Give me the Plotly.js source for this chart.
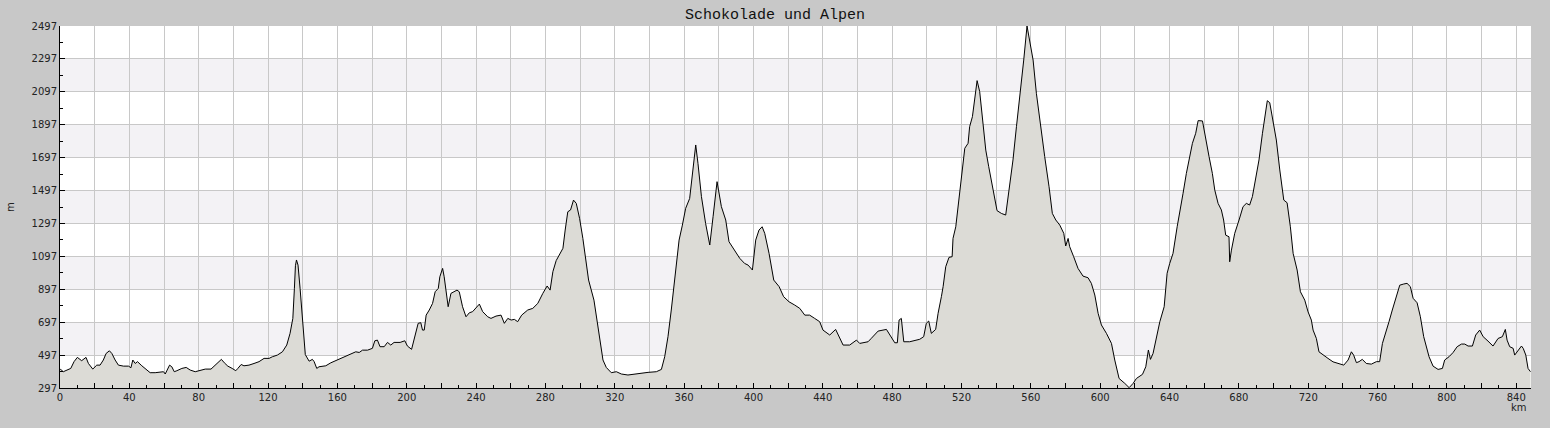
<!DOCTYPE html>
<html>
<head>
<meta charset="utf-8">
<script src="https://cdn.plot.ly/plotly-3.0.1.min.js"></script>
<style>
  html, body { margin: 0; padding: 0; background: #c8c8c8; }
  #chart { width: 1550px; height: 428px; }
</style>
</head>
<body>
<div id="chart"></div>
<script>
// distance along the route (km) and elevation (m)
const distKm = [
  0, 0.4, 1.9, 3.9, 6.2, 8.1, 10, 12.5, 15, 16.4, 18.9, 21.2, 23.1, 25, 26.6, 28.5, 29.9, 31.8, 33.7, 36.6,
  39.5, 40.9, 42, 43.4, 44.7, 47.2, 50.1, 52, 54.9, 57.8, 59.7, 60.7, 62, 63.2, 64.5, 65.9, 67.4, 70.3, 72.8, 75.1,
  78, 80.9, 83.8, 87.1, 89, 90.6, 93.1, 94.8, 96.8, 99.3, 101.4, 102.6, 104.5, 106.1, 109, 111.9, 114.8, 117.7, 120.6, 122.5,
  125.4, 128.3, 130.8, 132.7, 134.3, 135.2, 135.8, 136.4, 137.3, 138.5, 139.6, 140.5, 141.5, 143.7, 145.6, 146.6, 148.1, 149.4, 153.3, 156.2,
  160, 163.9, 167.7, 170.6, 172.6, 174.5, 177.4, 180.2, 181.6, 183.1, 184.6, 187, 188.9, 190.8, 192.7, 196.2, 198.9, 200.4, 202.8, 204.7,
  206.6, 208.1, 209.1, 210.1, 211.2, 213, 214.9, 216.4, 218.2, 219.1, 220.7, 221.6, 222.8, 223.9, 225.5, 227.4, 229, 230.3, 232.2, 234.2,
  236.1, 238, 239.9, 241.9, 243.8, 246.7, 248.6, 251.5, 254.4, 256.3, 258.3, 260.2, 262.1, 264, 266.3, 269.8, 272.7, 275.6, 278.5, 281,
  282.7, 284.3, 286.2, 290.1, 291.4, 292.9, 294.5, 296.2, 297.8, 299.7, 301.6, 303.2, 304.9, 308, 309.9, 311.8, 313.2, 315.1, 318, 320.9,
  323.8, 327.6, 331.5, 334.4, 339.2, 344, 346.9, 348.8, 350.7, 352.6, 354.6, 357.1, 359, 360.9, 363.2, 365.1, 366.7, 368, 370, 372.4,
  374.8, 376.7, 379, 381.5, 384, 385.9, 388.2, 390.1, 392.1, 394.9, 396.9, 399.4, 401.3, 403.2, 405, 406.5, 409, 411.7, 414.8, 417.4,
  420.5, 423.8, 426.7, 429.6, 432.4, 435.3, 438.2, 440.1, 444, 447.4, 449.7, 451.7, 455.5, 459.4, 461.3, 466.1, 468, 471.9, 476.7, 479.6,
  481.5, 483, 484, 485.3, 486.7, 490.1, 495.9, 498.2, 499.7, 501.1, 502.6, 505.1, 506.5, 508.4, 509.4, 510.9, 512.8, 514.6, 515.1, 516.7,
  518.6, 520.3, 521.9, 523.8, 524.7, 526.3, 527.6, 529, 530.5, 532.4, 534, 535.7, 537.8, 539.2, 540.5, 543, 545.5, 547.4, 549.7, 551.7,
  554, 555.9, 557.8, 559.4, 561.3, 563.2, 565.5, 568, 570.5, 572.4, 574.4, 576.7, 579, 580.1, 581.5, 582.4, 584.7, 587.2, 590.1, 593,
  594.9, 596.9, 598.8, 600.7, 603.6, 606.5, 608.4, 610.9, 614.2, 616.7, 619, 620.9, 624.4, 626.3, 627.8, 629, 630.5, 632.4, 634.4, 636.9,
  638.6, 640.1, 642, 644.4, 645.9, 647.8, 649.7, 651.3, 653.2, 655.1, 656.5, 659, 660.9, 662.8, 664.7, 666.1, 668, 669.9, 671.2, 672.4,
  674.3, 674.7, 675.7, 677.6, 680.1, 682.4, 684.3, 686.2, 687.8, 689.7, 691.6, 693.6, 695.5, 696.4, 697.8, 699.7, 701.6, 703.6, 705.9, 707.8,
  709.7, 711.3, 713.6, 715.5, 718, 719.9, 721.8, 722.8, 724.7, 726.2, 728.6, 731.4, 734.3, 738.2, 740.5, 743, 744.9, 746.2, 747.8, 749.3,
  751.2, 753.5, 756.4, 759.3, 761.2, 762.8, 764.7, 766.6, 768.5, 770.9, 772.8, 775.1, 777, 778.9, 780.5, 782.8, 784.7, 786.6, 788.2, 789.7,
  792, 794.9, 797.4, 798.7, 801.2, 803.5, 805.9, 808.4, 810.3, 812.2, 814.7, 816.6, 818.9, 820.9, 823.7, 826.6, 829.5, 832, 833.7, 834.7,
  836.2, 838.2, 839.1, 841, 843, 844, 845.5, 846.8, 848.2
];
const elevM = [
  408, 410, 396, 406, 416, 457, 483, 463, 483, 446, 412, 436, 436, 467, 507, 523, 507, 467, 436, 430,
  430, 420, 467, 446, 457, 432, 406, 390, 390, 396, 396, 382, 416, 436, 426, 396, 402, 416, 422, 406,
  396, 406, 412, 412, 430, 450, 471, 450, 430, 416, 402, 416, 440, 432, 436, 446, 457, 477, 477, 487,
  497, 517, 558, 629, 720, 900, 1040, 1075, 1044, 900, 730, 588, 500, 460, 471, 457, 416, 426, 432, 450,
  467, 487, 503, 517, 513, 527, 527, 538, 584, 588, 548, 548, 574, 558, 574, 574, 584, 552, 532, 605,
  690, 694, 649, 649, 740, 771, 811, 882, 902, 973, 1024, 973, 872, 791, 872, 882, 892, 882, 791, 730,
  754, 761, 781, 807, 761, 730, 720, 734, 740, 690, 720, 710, 714, 700, 740, 771, 781, 811, 872, 917,
  892, 1004, 1071, 1146, 1257, 1368, 1379, 1439, 1419, 1328, 1206, 1095, 953, 831, 690, 568, 467, 422, 390, 396,
  382, 376, 382, 382, 392, 396, 410, 487, 609, 771, 973, 1196, 1287, 1389, 1449, 1622, 1774, 1662, 1460, 1297,
  1166, 1338, 1551, 1399, 1318, 1186, 1146, 1115, 1085, 1054, 1044, 1014, 1196, 1257, 1277, 1237, 1115, 953, 913, 852,
  821, 801, 781, 740, 740, 720, 700, 649, 619, 653, 599, 558, 558, 588, 568, 578, 599, 643, 653, 599,
  572, 572, 710, 720, 578, 578, 593, 609, 690, 704, 629, 653, 751, 852, 913, 1034, 1091, 1095, 1206, 1277,
  1460, 1602, 1754, 1784, 1885, 1946, 2047, 2165, 2098, 1905, 1743, 1642, 1520, 1439, 1375, 1358, 1348, 1500, 1683, 1885,
  2088, 2290, 2497, 2392, 2290, 2088, 1885, 1703, 1520, 1358, 1318, 1287, 1237, 1160, 1206, 1156, 1095, 1024, 977, 967,
  933, 862, 751, 680, 629, 568, 467, 355, 325, 299, 325, 355, 380, 426, 528, 471, 507, 609, 700, 791,
  994, 1054, 1115, 1277, 1379, 1480, 1601, 1683, 1784, 1845, 1922, 1920, 1804, 1703, 1601, 1500, 1419, 1379, 1318, 1226,
  1216, 1064, 1135, 1237, 1318, 1399, 1419, 1409, 1460, 1561, 1683, 1845, 1986, 2043, 2031, 1925, 1804, 1622, 1439, 1423,
  1277, 1115, 1014, 882, 831, 760, 710, 649, 598, 517, 497, 477, 456, 446, 436, 467, 517, 497, 451, 457,
  471, 446, 442, 457, 457, 568, 629, 700, 771, 852, 922, 929, 933, 913, 842, 815, 730, 609, 538, 487,
  430, 410, 416, 467, 487, 512, 548, 564, 564, 552, 552, 619, 649, 609, 582, 552, 598, 609, 653, 588,
  548, 538, 497, 527, 552, 538, 497, 416, 396
];

// axis ticks
const xTickVals = [];
const xTickText = [];
for (let v = 0; v <= 840; v += 20) {
  xTickVals.push(v);
  xTickText.push(v % 40 === 0 ? String(v) : '');
}
const yTicks = [297, 497, 697, 897, 1097, 1297, 1497, 1697, 1897, 2097, 2297, 2497];

const tickFont = { family: 'DejaVu Sans', size: 10, color: '#222' };

// alternating light bands between every other pair of y gridlines
const bands = [];
for (let i = 1; i < yTicks.length - 1; i += 2) {
  bands.push({
    type: 'rect', xref: 'paper', yref: 'y', layer: 'below',
    x0: 0, x1: 1, y0: yTicks[i], y1: yTicks[i + 1],
    fillcolor: '#f3f2f5', line: { width: 0 }
  });
}

const trace = {
  x: distKm,
  y: elevM,
  type: 'scatter',
  mode: 'lines',
  fill: 'tozeroy',
  fillcolor: '#dcdbd6',
  line: { color: '#000', width: 1 },
  hoverinfo: 'x+y'
};

const layout = {
  width: 1550,
  height: 428,
  paper_bgcolor: '#c8c8c8',
  plot_bgcolor: '#ffffff',
  margin: { l: 60, r: 19, t: 26, b: 40 },
  showlegend: false,
  title: {
    text: 'Schokolade und Alpen',
    font: { family: 'Liberation Mono', size: 15, color: '#111' },
    xref: 'container', x: 0.5, xanchor: 'center',
    yref: 'container', y: 1 - 14 / 428, yanchor: 'middle'
  },
  xaxis: {
    range: [0, 848.5],
    tickmode: 'array',
    tickvals: xTickVals,
    ticktext: xTickText,
    ticks: 'inside', ticklen: 5, tickcolor: '#000',
    showline: true, linecolor: '#000', linewidth: 1,
    showgrid: true, gridcolor: '#c8c8c8', gridwidth: 1,
    zeroline: false,
    tickfont: tickFont,
    minor: { dtick: 10, ticks: 'inside', ticklen: 3, tickcolor: '#000', showgrid: false },
    fixedrange: true
  },
  yaxis: {
    range: [297, 2497],
    tickmode: 'array',
    tickvals: yTicks,
    ticktext: yTicks.map(String),
    ticks: 'inside', ticklen: 5, tickcolor: '#000',
    showline: true, linecolor: '#000', linewidth: 1,
    showgrid: true, gridcolor: '#c8c8c8', gridwidth: 1,
    zeroline: false,
    tickfont: tickFont,
    minor: { tick0: 297, dtick: 100, ticks: 'inside', ticklen: 3, tickcolor: '#000', showgrid: false },
    fixedrange: true
  },
  shapes: bands,
  annotations: [
    {
      text: 'km', xref: 'paper', yref: 'paper', x: 1, y: 0,
      xanchor: 'right', yanchor: 'top', yshift: -12, xshift: -2,
      showarrow: false, font: tickFont
    },
    {
      text: 'm', xref: 'paper', yref: 'paper', x: -50 / 1471, y: 0.5,
      xanchor: 'center', yanchor: 'middle', textangle: -90,
      showarrow: false, font: tickFont
    }
  ]
};

Plotly.newPlot('chart', [trace], layout, { displayModeBar: false, staticPlot: true });
</script>
</body>
</html>
